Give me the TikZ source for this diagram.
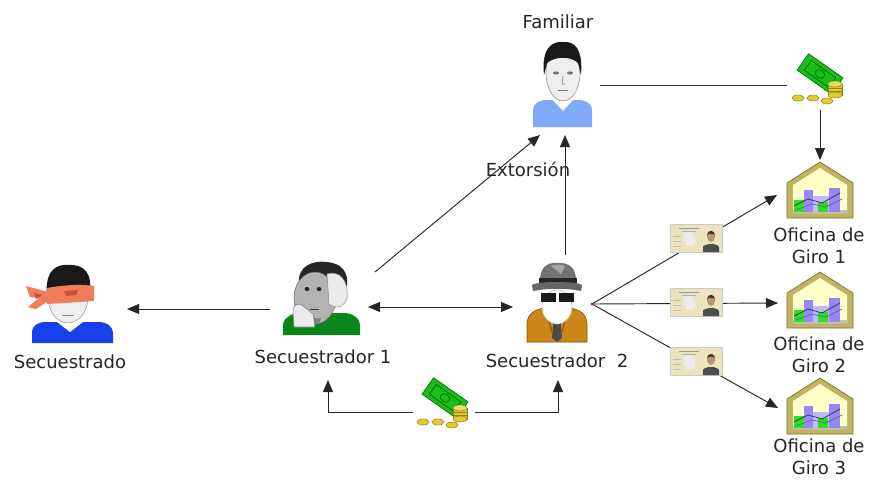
\documentclass[tikz,border=0pt]{standalone}
\usepackage{fontspec}
\setmainfont{DejaVu Sans}
\usetikzlibrary{arrows.meta}

% colores de los iconos
\definecolor{azulsec}{RGB}{25,65,235}
\definecolor{camisafam}{RGB}{130,170,250}
\definecolor{verdecam}{RGB}{10,135,25}
\definecolor{abrigo}{RGB}{205,135,25}
\definecolor{abrigoosc}{RGB}{140,85,10}
\definecolor{venda}{RGB}{240,125,90}
\definecolor{vendaosc}{RGB}{205,80,50}
\definecolor{piel}{RGB}{238,238,238}
\definecolor{pielfoto}{RGB}{185,150,115}
\definecolor{billete}{RGB}{25,190,25}
\definecolor{billeteosc}{RGB}{0,105,0}
\definecolor{moneda}{RGB}{225,205,45}
\definecolor{monedaosc}{RGB}{150,130,20}
\definecolor{casaborde}{RGB}{190,180,100}
\definecolor{casaosc}{RGB}{125,115,45}
\definecolor{casafondo}{RGB}{255,255,200}
\definecolor{lila}{RGB}{150,135,255}
\definecolor{verdebarra}{RGB}{40,225,40}
\definecolor{tarjeta}{RGB}{236,228,188}

\tikzset{
  lbl/.style={font=\fontsize{13.5pt}{16pt}\selectfont, text=black!85,
    inner sep=0pt, align=center},
  ico/.style={inner sep=0pt, minimum size=45pt},
  punta/.tip={Triangle[length=9pt,width=7.5pt]},
  flecha/.style={-punta, line width=0.7pt, black!85},
  linea/.style={line width=0.7pt, black!80},
  % persona con los ojos vendados
  victima/.pic={
    \fill[azulsec] (-38,38) -- (-38,28) .. controls (-38,20) and (-32,17) .. (-24,17)
      -- (28,17) .. controls (37,17) and (43,21) .. (43,29) -- (43,38) -- cycle;
    \fill[white] (-11,10) -- (9,10) -- (13,17) -- (0,27) -- (-13,17) -- cycle;
    \fill[piel, draw=black!40, line width=0.4pt] (-2,-8) ellipse (20 and 26);
    \fill[black!90] (-23,-8) .. controls (-26,-36) and (-12,-41) .. (-2,-40)
      .. controls (14,-41) and (24,-32) .. (19,-8)
      .. controls (12,-22) and (-12,-24) .. (-23,-8) -- cycle;
    \fill[venda] (-23,-17) .. controls (-8,-20) and (12,-21) .. (24,-19) -- (24,-4)
      .. controls (12,-3) and (-8,-2) .. (-23,-1) -- cycle;
    \fill[venda] (-22,-13) -- (-44,-19) -- (-40,-8) -- (-31,-7) -- (-42,2) -- (-34,4)
      -- (-22,-4) -- cycle;
    \fill[vendaosc] (-6,-14) -- (8,-15) -- (6,-10) -- (-4,-9) -- cycle;
    \fill[vendaosc] (-36,-12) -- (-28,-10) -- (-34,-6) -- cycle;
    \draw[black!45, line width=0.6pt] (-8,10) -- (4,10);
  },
  % secuestrador al telefono
  secuno/.pic={
    \fill[verdecam] (-38,35) -- (-38,24) .. controls (-36,16) and (-28,13) .. (-20,13)
      -- (22,13) .. controls (32,13) and (39,18) .. (39,26) -- (39,35) -- cycle;
    \fill[black!85] (-22,-16) .. controls (-24,-34) and (-8,-40) .. (6,-38)
      .. controls (20,-37) and (28,-28) .. (26,-14) -- (24,2) -- (10,-10)
      -- (-14,-18) -- cycle;
    \fill[black!30, draw=black!60, line width=0.4pt] (-6,-2) ellipse (21 and 26);
    \fill[black!50] (-24,4) .. controls (-20,14) and (-10,20) .. (0,18) -- (-2,24)
      .. controls (-14,24) and (-24,16) .. (-24,4) -- cycle;
    \fill[black!8, draw=black!45, line width=0.4pt] (6,-26) .. controls (18,-30) and (28,-20) .. (26,-2)
      .. controls (24,6) and (16,10) .. (8,4) -- cycle;
    \fill[black!85] (-14,-11) ellipse (2.5 and 2);
    \fill[black!85] (-2,-11) ellipse (2.5 and 2);
    \draw[black!75, line width=0.6pt] (-11,9) -- (-2,9);
    \fill[black!8, draw=black!50, line width=0.4pt] (-27,27) -- (-28,12)
      .. controls (-28,4) and (-22,2) .. (-18,6) -- (-8,14) -- (-6,27) -- cycle;
  },
  % secuestrador con sombrero y gafas
  secdos/.pic={
    \fill[abrigo, draw=abrigoosc, line width=0.5pt] (-30,40) -- (-30,22)
      .. controls (-30,12) and (-22,7) .. (-12,6) -- (12,6)
      .. controls (22,7) and (30,12) .. (30,22) -- (30,40) -- cycle;
    \fill[white] (-9,6) -- (9,6) -- (0,24) -- cycle;
    \fill[black!70] (-3,12) -- (3,12) -- (5,36) -- (0,40) -- (-5,36) -- cycle;
    \draw[abrigoosc, line width=0.8pt] (-11,7) -- (-5,30);
    \draw[abrigoosc, line width=0.8pt] (11,7) -- (5,30);
    \fill[white, draw=black!30, line width=0.4pt] (0,5) ellipse (15 and 17);
    \fill[black!90] (-16,-9) rectangle (-1,0);
    \fill[black!90] (2,-9) rectangle (17,0);
    \fill[black!55] (-17,-19) .. controls (-18,-34) and (-10,-40) .. (0,-39)
      .. controls (12,-40) and (20,-34) .. (19,-19) -- cycle;
    \fill[black!35] (-6,-36) .. controls (-2,-38) and (4,-38) .. (8,-36) -- (4,-28) -- cycle;
    \fill[black!85] (-18,-24) rectangle (20,-18);
    \fill[black!60] (-25,-17) .. controls (-20,-21) and (20,-21) .. (25,-17) -- (24,-11)
      .. controls (10,-14) and (-10,-14) .. (-24,-11) -- cycle;
  },
  % familiar
  familia/.pic={
    \fill[camisafam] (-30,42) -- (-30,26) .. controls (-30,18) and (-24,15) .. (-16,15)
      -- (15,15) .. controls (23,15) and (29,18) .. (29,26) -- (29,42) -- cycle;
    \fill[white] (-8,8) -- (7,8) -- (10,15) -- (0,26) -- (-10,15) -- cycle;
    \fill[piel, draw=black!45, line width=0.4pt] (0,-12) ellipse (17 and 28);
    \fill[black!90] (-19,-10) .. controls (-22,-38) and (-10,-44) .. (0,-43)
      .. controls (12,-44) and (20,-36) .. (18,-10) -- (15,-22)
      .. controls (8,-29) and (-8,-29) .. (-16,-22) -- cycle;
    \fill[black!55] (-7,-12) ellipse (3 and 1.6);
    \fill[black!55] (7,-12) ellipse (3 and 1.6);
    \draw[black!45, line width=0.5pt] (0,-9) -- (-1,-1) -- (2,-1);
    \draw[black!55, line width=0.6pt] (-5,5) -- (5,5);
  },
  % billete y monedas
  dinero/.pic={
    \begin{scope}[shift={(0,-10)}, rotate=-35]
      \fill[billete, draw=billeteosc, line width=0.5pt] (-21,-10) rectangle (21,10);
      \draw[billeteosc, line width=0.5pt] (-15,-6) rectangle (15,6);
      \draw[billeteosc, line width=0.5pt] (0,0) ellipse (5 and 4);
    \end{scope}
    \foreach \cx/\cy in {-22/14, -7/14, 7/17}
      \fill[moneda, draw=monedaosc, line width=0.4pt] (\cx,\cy) ellipse (6 and 3);
    \fill[moneda, draw=monedaosc, line width=0.4pt] (8,0) rectangle (22,11);
    \fill[moneda, draw=monedaosc, line width=0.4pt] (15,11) ellipse (7 and 3);
    \fill[moneda!70!white, draw=monedaosc, line width=0.4pt] (15,0) ellipse (7 and 3);
    \foreach \cy in {4,7}
      \draw[monedaosc, line width=0.3pt] (8,\cy) -- (22,\cy);
  },
  % oficina de giro
  oficina/.pic={
    \fill[casaborde, draw=casaosc, line width=0.5pt] (0,-28) -- (33,-7) -- (33,28)
      -- (-33,28) -- (-33,-7) -- cycle;
    \fill[casafondo] (0,-22) -- (27,-5) -- (27,23) -- (-27,23) -- (-27,-5) -- cycle;
    \fill[black!25] (-27,20) rectangle (27,23);
    \fill[lila] (-16,0) rectangle (-7,22);
    \fill[lila] (9,-2) rectangle (20,22);
    \fill[lila!60] (-7,6) rectangle (9,22);
    \fill[verdebarra] (-26,10) rectangle (-16,22);
    \fill[verdebarra] (-2,12) rectangle (8,22);
    \draw[black!75, line width=0.6pt] (-26,16) -- (-12,9) -- (2,13) -- (20,3);
    \draw[black!60, line width=0.5pt] (-24,20) -- (-8,14) -- (6,17) -- (22,9);
  },
  % cedula de identidad
  cedula/.pic={
    \fill[tarjeta, draw=black!20, line width=0.3pt] (-26,-14) rectangle (26,14);
    \fill[black!8] (-12,-6) .. controls (-4,-8) and (2,-2) .. (-2,6)
      .. controls (-6,12) and (-14,8) .. (-12,-6) -- cycle;
    \draw[black!40, line width=0.4pt] (-17,-10) -- (3,-10);
    \draw[black!30, line width=0.4pt] (-14,-7) -- (0,-7);
    \foreach \cy in {-2,3,8}
      \draw[black!25, line width=0.4pt] (-23,\cy) -- (-15,\cy);
    \fill[black!70] (7,14) -- (7,9) .. controls (9,5) and (21,5) .. (23,9) -- (23,14) -- cycle;
    \fill[pielfoto] (15,-1) ellipse (4 and 5);
    \fill[black!75] (11,-2) .. controls (11,-9) and (19,-9) .. (19,-2) -- (18,-4) -- (12,-4) -- cycle;
  }
}

\begin{document}
\begin{tikzpicture}[x=0.75pt, y=-0.75pt]
    \fill[white] (0,0) rectangle (871,480);
    \useasboundingbox (0,0) rectangle (871,480);

    % Nodos de los actores
    \node[ico] (sec) at (70,305) {};
    \node[ico] (sr1) at (321,300) {};
    \node[ico] (sr2) at (557,302) {};
    \node[ico] (fam) at (563,85) {};
    \node[ico] (din1) at (820,84) {};
    \node[ico] (din2) at (445,408) {};
    \node[ico] (of1) at (820,190) {};
    \node[ico] (of2) at (820,300) {};
    \node[ico] (of3) at (820,406) {};
    \coordinate (nudo) at ([shift={(35,2)}]sr2.center);

    % Conexiones
    \draw[flecha] ([shift={(-51,9)}]sr1.center) -- ([shift={(57,4)}]sec.center);
    \draw[flecha, punta-punta]
      ([shift={(47,7)}]sr1.center) -- ([shift={(-44,5)}]sr2.center);
    \draw[flecha] ([shift={(54,-28)}]sr1.center) -- ([shift={(-23,50)}]fam.center);
    \draw[flecha] ([shift={(8,-47)}]sr2.center) -- ([shift={(2,50)}]fam.center);
    \draw[linea] ([shift={(37,0)}]fam.center) -- ([shift={(-33,1)}]din1.center);
    \draw[flecha] ([shift={(0,26)}]din1.center) -- ([shift={(0,-30)}]of1.center);
    \draw[flecha] (nudo) -- ([shift={(-43,5)}]of1.center);
    \draw[flecha] (nudo) -- ([shift={(-42,3)}]of2.center);
    \draw[flecha] (nudo) -- ([shift={(-42,2)}]of3.center);
    \draw[flecha] ([shift={(-32,4)}]din2.center) -| ([shift={(7,80)}]sr1.center);
    \draw[flecha] ([shift={(30,4)}]din2.center) -| ([shift={(1,78)}]sr2.center);
    \fill[red] (nudo) circle (1.5);

    % Iconos
    \pic at (sec) {victima};
    \pic at (sr1) {secuno};
    \pic at (sr2) {secdos};
    \pic at (fam) {familia};
    \pic at (din1) {dinero};
    \pic at (din2) {dinero};
    \pic at (of1) {oficina};
    \pic at (of2) {oficina};
    \pic at (of3) {oficina};
    \node[ico, minimum size=20pt] (id1) at (696,238) {};
    \node[ico, minimum size=20pt] (id2) at (696,302) {};
    \node[ico, minimum size=20pt] (id3) at (696,361) {};
    \pic at (id1) {cedula};
    \pic at (id2) {cedula};
    \pic at (id3) {cedula};

    % Etiquetas
    \node[lbl, anchor=base] (tfam) at (558,28) {Familiar};
    \node[lbl, anchor=base] (text) at (528,176) {Extorsión};
    \node[lbl, anchor=base] (tsec) at (70,368) {Secuestrado};
    \node[lbl, anchor=base] (tsr1) at (323,363) {Secuestrador 1};
    \node[lbl, anchor=base] (tsr2) at (557,367) {Secuestrador\ \ 2};
    \node[lbl, anchor=north] (tof1) at (819,228) {Oficina de\\Giro 1};
    \node[lbl, anchor=north] (tof2) at (819,337) {Oficina de\\Giro 2};
    \node[lbl, anchor=north] (tof3) at (819,439) {Oficina de\\Giro 3};
\end{tikzpicture}
\end{document}
